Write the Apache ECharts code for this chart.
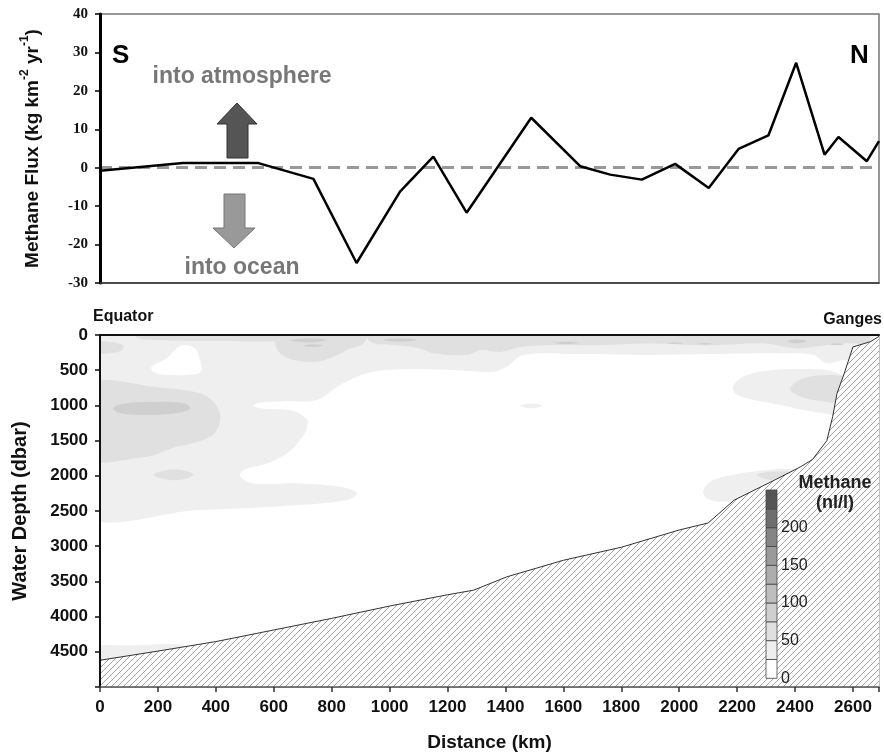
<!DOCTYPE html>
<html><head><meta charset="utf-8">
<script src="https://cdn.jsdelivr.net/npm/echarts@6/dist/echarts.min.js"></script>
<style>html,body{margin:0;padding:0;background:#fff}#c{width:884px;height:755px}</style>
</head><body><div id="c"></div>
<script>
// ---------- DATA ----------
// Top panel: methane flux along the transect
const fluxDistance = [0, 287, 547, 737, 886, 1036, 1151, 1266, 1489, 1658, 1762, 1871, 1986, 2102, 2205, 2308, 2404, 2502, 2550, 2648, 2690];
const fluxValue    = [-0.8, 1.2, 1.2, -2.9, -24.8, -6.2, 2.9, -11.7, 13.0, 0.4, -1.8, -3.1, 1.0, -5.3, 4.9, 8.4, 27.3, 3.4, 8.0, 1.7, 6.9];

// Bottom panel: sea-floor profile
const bathyDistance = [0, 200, 400, 600, 800, 1000, 1200, 1290, 1405, 1600, 1800, 2000, 2100, 2190, 2330, 2420, 2460, 2510, 2530, 2545, 2570, 2600, 2660, 2690];
const bathyDepth    = [4620, 4490, 4355, 4190, 4025, 3850, 3690, 3625, 3435, 3200, 3015, 2770, 2670, 2345, 2060, 1870, 1770, 1500, 1160, 830, 545, 170, 95, 20];

// Methane colour scale (nl/l)
const methaneBounds = [0, 25, 50, 75, 100, 125, 150, 175, 200, 225, 250];
const methaneColors = ['#ffffff', '#efefef', '#e0e0e0', '#cfcfcf', '#bebebe', '#adadad', '#9a9a9a', '#858585', '#6e6e6e', '#555555'];
const methaneLabels = [0, 50, 100, 150, 200];

// Contour regions read from the section: [distance km, depth dbar]
const light_main = [[-60,-150],[2650,-150],[2650,360],[2568,355],[2510,402],[2464,284],[2349,261],[2118,270],[1888,284],[1658,270],[1462,284],[1405,450],[1359,521],[1313,521],[1209,497],[1036,488],[921,545],[829,711],[748,924],[640,940],[545,965],[530,1010],[560,1045],[668,1080],[714,1200],[714,1330],[691,1492],[645,1682],[576,1824],[495,1918],[484,2013],[530,2108],[691,2108],[829,2156],[887,2250],[852,2345],[691,2416],[345,2487],[-60,2511]];
const light_right = [[2188,711],[2234,568],[2326,497],[2464,488],[2533,521],[2600,700],[2600,1113],[2464,1089],[2349,995],[2234,900],[2193,829]];
const light_slope = [[2084,2203],[2118,2061],[2211,1966],[2303,1918],[2360,1900],[2450,1950],[2420,2100],[2326,2203],[2268,2298],[2165,2369],[2095,2321]];
const light_dot = [[1451,1005],[1490,972],[1526,1005],[1490,1040]];
const light_bottom = [[-60,4452],[138,4405],[253,4391],[299,4429],[320,4700],[-60,4700]];
const white_tongue = [[178,450],[230,331],[259,213],[288,142],[328,189],[345,355],[351,497],[334,554],[230,568],[184,521]];
const mid_left = [[-60,711],[230,757],[345,829],[391,947],[414,1113],[409,1303],[380,1450],[300,1560],[253,1600],[161,1729],[-60,1735]];
const mid_topLeft = [[-60,95],[40,100],[80,150],[75,220],[30,260],[-60,260]];
const mid_2000 = [[184,1990],[220,1930],[270,1915],[322,1975],[300,2040],[240,2060]];
const mid_strip = [[127,-50],[645,-50],[645,70],[400,80],[200,75],[127,40]];
const mid_surface = [[610,-50],[921,-50],[910,118],[852,213],[806,308],[748,379],[668,355],[622,260],[605,118]];
const mid_band = [[921,-50],[2650,-50],[2650,110],[2579,118],[2464,166],[2407,190],[2291,120],[2118,145],[1888,120],[1716,145],[1543,145],[1451,170],[1382,240],[1313,215],[1267,284],[1151,260],[1105,190],[1013,142],[944,118],[921,40]];
const mid_right = [[2383,758],[2429,616],[2521,568],[2600,640],[2600,947],[2464,924],[2407,853]];
const mid_slope = [[2268,1990],[2314,1942],[2383,1942],[2430,2000],[2395,2061],[2326,2070]];
const dark_core = [[46,1040],[80,975],[180,950],[290,970],[311,1040],[280,1100],[180,1135],[70,1110]];
const dark_s1 = [[656,75],[720,45],[783,70],[720,105]];
const dark_s2 = [[702,150],[735,130],[771,150],[735,172]];
const dark_s3 = [[979,70],[1035,47],[1094,70],[1035,95]];
const dark_s4 = [[1566,110],[1610,95],[1658,110],[1610,128]];
const dark_s5 = [[1958,118],[1985,108],[2015,118],[1985,128]];
const dark_s6 = [[2061,125],[2090,115],[2118,125],[2090,135]];
const dark_s7 = [[2372,90],[2405,62],[2441,90],[2405,118]];
const dark_s8 = [[2521,130],[2545,118],[2568,130],[2545,142]];

const contourRegions = [
  {level:1, pts:light_main}, {level:1, pts:light_right}, {level:1, pts:light_slope},
  {level:1, pts:light_dot}, {level:1, pts:light_bottom}, {level:0, pts:white_tongue},
  {level:2, pts:mid_left}, {level:2, pts:mid_topLeft}, {level:2, pts:mid_2000},
  {level:2, pts:mid_strip}, {level:2, pts:mid_surface}, {level:2, pts:mid_band},
  {level:2, pts:mid_right}, {level:2, pts:mid_slope},
  {level:3, pts:dark_core}, {level:3, pts:dark_s1}, {level:3, pts:dark_s2}, {level:3, pts:dark_s3},
  {level:3, pts:dark_s4}, {level:3, pts:dark_s5}, {level:3, pts:dark_s6}, {level:3, pts:dark_s7}, {level:3, pts:dark_s8}
];

// ---------- CHART ----------
const SANS = '"Liberation Sans", Arial, sans-serif';
const SERIF = '"Liberation Serif", "Times New Roman", serif';

const hatch = document.createElement('canvas');
hatch.width = 6; hatch.height = 6;
(function(){
  const g = hatch.getContext('2d');
  g.fillStyle = '#ffffff'; g.fillRect(0,0,6,6);
  g.strokeStyle = '#8c8c8c'; g.lineWidth = 0.8;
  g.beginPath();
  g.moveTo(-1,7); g.lineTo(7,-1);
  g.moveTo(-1,1); g.lineTo(1,-1);
  g.moveTo(5,7); g.lineTo(7,5);
  g.stroke();
})();

const chart = echarts.init(document.getElementById('c'), null, {renderer:'canvas'});

const graphics = [];
function txt(x, y, text, font, fill, align, valign) {
  graphics.push({type:'text', x:x, y:y, z:100, style:{text:text, font:font, fill:fill,
    align:align, textAlign:align, verticalAlign:valign, textVerticalAlign:valign}});
}
txt(112, 56, 'S', 'bold 26px ' + SANS, '#000', 'left', 'middle');
txt(850, 56, 'N', 'bold 26px ' + SANS, '#000', 'left', 'middle');
txt(242, 77, 'into atmosphere', 'bold 23px ' + SANS, '#777', 'center', 'middle');
txt(242, 268, 'into ocean', 'bold 23px ' + SANS, '#777', 'center', 'middle');
txt(93, 317, 'Equator', 'bold 16px ' + SANS, '#111', 'left', 'middle');
txt(882, 320, 'Ganges', 'bold 16px ' + SANS, '#111', 'right', 'middle');
txt(835, 483, 'Methane', 'bold 18px ' + SANS, '#222', 'center', 'middle');
txt(835, 503, '(nl/l)', 'bold 18px ' + SANS, '#222', 'center', 'middle');

// arrows
graphics.push({type:'polygon', z:100, shape:{points:[[237,103],[257,124],[248,124],[248,158],[227,158],[227,124],[217,124]]},
  style:{fill:'#555', stroke:'#333', lineWidth:1}});
graphics.push({type:'polygon', z:100, shape:{points:[[224,194],[245,194],[245,228],[255,228],[234,248],[213,228],[224,228]]},
  style:{fill:'#999', stroke:'#777', lineWidth:1}});

// colour bar
const cbX = 766, cbBottom = 678.3, cbStep = 18.83, cbW = 11;
methaneColors.forEach((c, i) => {
  graphics.push({type:'rect', z:100, shape:{x:cbX, y:cbBottom - (i+1)*cbStep, width:cbW, height:cbStep},
    style:{fill:c, stroke:'#444', lineWidth:0.8}});
});
methaneLabels.forEach(v => {
  const idx = methaneBounds.indexOf(v);
  txt(cbX + cbW + 4, cbBottom - idx*cbStep, String(v), '16px ' + SANS, '#222', 'left', 'middle');
});

const XMAX = 2690;

chart.setOption({
  animation: false,
  backgroundColor: '#ffffff',
  grid: [
    {left:100, top:14, width:779, height:269, show:true, borderColor:'#777', borderWidth:1.5, backgroundColor:'transparent'},
    {left:100, top:335, width:779, height:352, show:true, borderColor:'#888', borderWidth:1, backgroundColor:'transparent'}
  ],
  xAxis: [
    {type:'value', gridIndex:0, min:0, max:XMAX, z:10,
      axisLine:{onZero:false, lineStyle:{color:'#333', width:1.5}}, axisTick:{show:false}, axisLabel:{show:false}, splitLine:{show:false}},
    {type:'value', gridIndex:1, min:0, max:XMAX, interval:200, z:10,
      name:'Distance (km)', nameLocation:'middle', nameGap:46,
      nameTextStyle:{fontFamily:SANS, fontWeight:'bold', fontSize:19, color:'#111'},
      axisLine:{onZero:false, lineStyle:{color:'#555', width:1.5}},
      axisTick:{show:true, length:5, lineStyle:{color:'#333', width:1.5}},
      axisLabel:{margin:12, fontFamily:SANS, fontWeight:'bold', fontSize:17, color:'#111',
        formatter: v => (v % 200 === 0 ? String(v) : '')},
      splitLine:{show:false}},
    {type:'value', gridIndex:1, min:0, max:XMAX, position:'top', z:10,
      axisLine:{onZero:false, lineStyle:{color:'#111', width:2}}, axisTick:{show:false}, axisLabel:{show:false}, splitLine:{show:false}}
  ],
  yAxis: [
    {type:'value', gridIndex:0, min:-30, max:40, interval:10, z:10,
      name:'{a|Methane Flux (kg km}{s|-2}{a| yr}{s|-1}{a|)}', nameLocation:'middle', nameGap:58,
      nameTextStyle:{fontFamily:SANS, fontWeight:'bold', fontSize:19, color:'#111',
        rich:{a:{fontFamily:SANS, fontWeight:'bold', fontSize:19, color:'#111', lineHeight:23, verticalAlign:'bottom'},
              s:{fontFamily:SANS, fontWeight:'bold', fontSize:12, color:'#111', lineHeight:23, verticalAlign:'top'}}},
      axisLine:{onZero:false, lineStyle:{color:'#000', width:3}},
      axisTick:{show:true, length:5, lineStyle:{color:'#000', width:1.5}},
      axisLabel:{margin:12, fontFamily:SERIF, fontWeight:'bold', fontSize:15, color:'#111'},
      splitLine:{show:false}},
    {type:'value', gridIndex:1, min:0, max:5000, interval:500, inverse:true, z:10,
      name:'Water Depth (dbar)', nameLocation:'middle', nameGap:70,
      nameTextStyle:{fontFamily:SANS, fontWeight:'bold', fontSize:20, color:'#111'},
      axisLine:{onZero:false, lineStyle:{color:'#111', width:2}},
      axisTick:{show:true, length:5, lineStyle:{color:'#111', width:1.5}},
      axisLabel:{margin:12, fontFamily:SANS, fontWeight:'bold', fontSize:17, color:'#111',
        formatter: v => (v === 5000 ? '' : String(v))},
      splitLine:{show:false}}
  ],
  series: [
    {type:'line', xAxisIndex:0, yAxisIndex:0, symbol:'none', z:5,
      data: fluxDistance.map((d, i) => [d, fluxValue[i]]),
      lineStyle:{color:'#000', width:2.5},
      markLine:{silent:true, symbol:'none', label:{show:false},
        lineStyle:{color:'#999', width:3, type:[12,7]},
        data:[{yAxis:0}]}},
    {type:'custom', xAxisIndex:1, yAxisIndex:1, z:1, silent:true,
      data: contourRegions.map(r => r.pts[0]),
      renderItem: (params, api) => {
        const r = contourRegions[params.dataIndex];
        const cs = params.coordSys;
        const pts = r.pts.map(p => api.coord(p));
        return {type:'group',
          clipPath:{type:'rect', shape:{x:cs.x, y:cs.y, width:cs.width, height:cs.height}},
          children:[{type:'polygon', shape:{points:pts, smooth:0.35},
            style:{fill:methaneColors[r.level], stroke:null}}]};
      }},
    {type:'line', xAxisIndex:1, yAxisIndex:1, symbol:'none', z:3,
      data: bathyDistance.map((d, i) => [d, bathyDepth[i]]),
      lineStyle:{color:'#333', width:1},
      areaStyle:{origin:'end', color:{image:hatch, repeat:'repeat'}, opacity:1}}
  ],
  graphic: graphics
});
</script></body></html>
